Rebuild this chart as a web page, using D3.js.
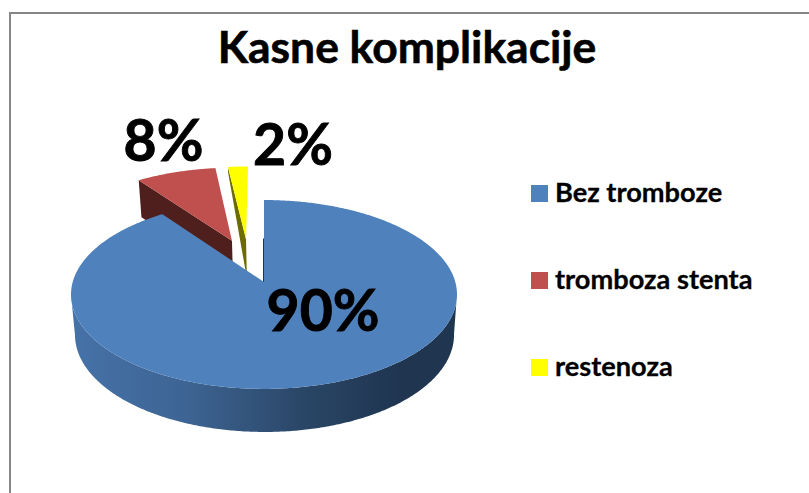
<!DOCTYPE html>
<html><head><meta charset="utf-8">
<script src="https://cdn.jsdelivr.net/npm/d3@7/dist/d3.min.js"></script>
<style>html,body{margin:0;padding:0;background:#fff}svg{display:block}text{font-family:Lato,"Open Sans",sans-serif;font-weight:700;fill:#000;stroke:#000}</style>
</head><body><script>
const categories = ["Bez tromboze", "tromboza stenta", "restenoza"];
const seriesValues = [90, 8, 2];
const title = "Kasne komplikacije";
const topColors = ["#4f81bd", "#c0504d", "#ffff00"];
const wallColors = ["url(#blueWall)", "#4f1f1e", "#6b6b00"];

const W = 809, H = 493;
const svg = d3.select("body").append("svg").attr("width", W).attr("height", H);

const grad = svg.append("defs").append("linearGradient").attr("id", "blueWall")
  .attr("gradientUnits", "userSpaceOnUse").attr("x1", 72).attr("x2", 458).attr("y1", 0).attr("y2", 0);
[[0, "#4672a8"], [0.3, "#3d6493"], [0.6, "#2a4666"], [0.85, "#1f3550"], [1, "#1f3550"]]
  .forEach(s => grad.append("stop").attr("offset", s[0]).attr("stop-color", s[1]));

// frame
svg.append("path").attr("d", `M10,${H}V13H${W}`).attr("fill", "none").attr("stroke", "#868686").attr("stroke-width", 2);

// perspective projection of the pie disc
const cx = 264, cy = 282, a = 191.3, b = 92.8, p = 0.132;
function project(u, v) {
  const s = 1 / (1 + p * v);
  return { x: cx + a * u * s, y: cy - b * v * s, s };
}
const lower = pt => [cx + 0.5 + (pt.x - cx) * 0.982, pt.y + 20 * pt.s + 20];
const upper = pt => [pt.x, pt.y];

const explode = [[0, 0], [-0.178, 0.473], [-0.1, 0.49]];
const wallFoot = [1, 1, 0.15];
const pie = d3.pie().sort(null).value(d => d).startAngle(0).endAngle(2 * Math.PI);
const arcs = pie(seriesValues);
const line = d3.line();

function rimPoints(d, i) {
  const n = Math.max(2, Math.ceil((d.endAngle - d.startAngle) / 0.01));
  const [ex, ey] = explode[i];
  return d3.range(n + 1).map(k => {
    const t = d.startAngle + (d.endAngle - d.startAngle) * k / n;
    return project(Math.sin(t) + ex, Math.cos(t) + ey);
  });
}

const g = svg.append("g");
// exploded slices first: the main slice hides their feet
[2, 1].forEach(i => {
  const rim = rimPoints(arcs[i], i);
  const apex = project(explode[i][0], explode[i][1]);
  const foot = d3.interpolateArray(upper(rim[0]), lower(rim[0]))(wallFoot[i]);
  g.append("path").attr("d", line([upper(rim[0]), upper(apex), lower(apex), foot]) + "Z").attr("fill", wallColors[i]);
  g.append("path").attr("d", line([upper(apex)].concat(rim.map(upper))) + "Z").attr("fill", topColors[i]);
});

// main slice: visible outer wall between its two horizontal extremes, then top
const mainRim = rimPoints(arcs[0], 0);
const iR = d3.greatestIndex(mainRim, q => q.x), iL = d3.leastIndex(mainRim, q => q.x);
const front = mainRim.slice(iR, iL + 1);
g.append("path").attr("d", line(front.map(upper).concat(front.slice().reverse().map(lower))) + "Z").attr("fill", wallColors[0]);
const apex0 = project(0, 0), edge0 = project(0, 0.5);
g.append("path").attr("d", `M${apex0.x - 0.5},${apex0.y}L${edge0.x - 0.5},${edge0.y}`).attr("stroke", "#1f3550").attr("stroke-width", 1);
g.append("path").attr("d", line([upper(apex0)].concat(mainRim.map(upper))) + "Z").attr("fill", topColors[0]);

// title
svg.append("text").attr("x", 407).attr("y", 63).attr("text-anchor", "middle")
  .attr("font-size", 44.4).attr("stroke-width", 0.6).text(title);

// data labels
const labelAnchors = [[323, 331], [163.5, 161], [293, 165]];
svg.selectAll(".lab").data(seriesValues).join("text").attr("class", "lab")
  .attr("x", (d, i) => labelAnchors[i][0]).attr("y", (d, i) => labelAnchors[i][1])
  .attr("text-anchor", "middle").attr("font-size", 57).attr("stroke-width", 0.9).text(d => d3.format("d")(d) + "%");

// legend
const legendY = d3.scalePoint().domain(categories).range([193.5, 367.5]);
const lg = svg.selectAll(".lg").data(categories).join("g").attr("class", "lg")
  .attr("transform", d => `translate(0,${legendY(d)})`);
lg.append("rect").attr("x", 531).attr("y", -8.5).attr("width", 17).attr("height", 17).attr("fill", (d, i) => topColors[i]);
lg.append("text").attr("x", 555).attr("y", 8.5).attr("font-size", 27.2).attr("stroke-width", 0.3).text(d => d);
</script></body></html>
